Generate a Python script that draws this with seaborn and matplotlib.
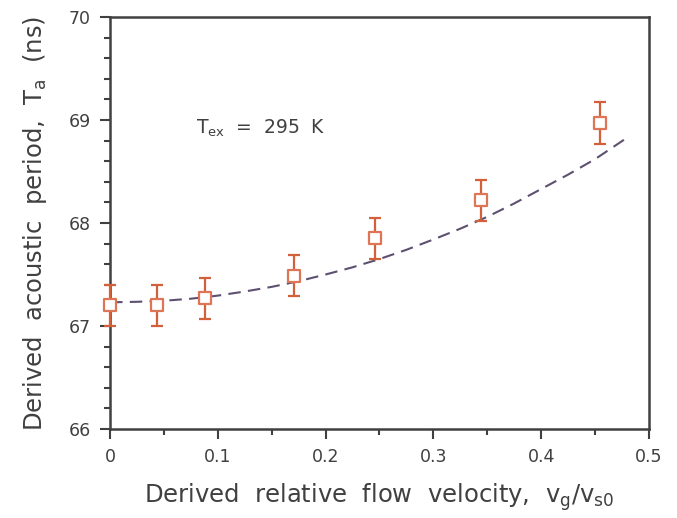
import matplotlib
matplotlib.use("Agg")
import matplotlib.pyplot as plt
import seaborn as sns
import numpy as np
import pandas as pd
from matplotlib.ticker import MultipleLocator

# Data
flow_velocity = [0.0, 0.0433, 0.0884, 0.1707, 0.2458, 0.3438, 0.4545]
acoustic_period = [67.20, 67.20, 67.27, 67.49, 67.85, 68.22, 68.97]
period_error = [0.20, 0.20, 0.20, 0.20, 0.20, 0.20, 0.20]

fit_velocity = [0.0, 0.025, 0.05, 0.075, 0.10, 0.125, 0.15, 0.175, 0.20, 0.225,
                0.25, 0.275, 0.30, 0.325, 0.35, 0.375, 0.40, 0.425, 0.45, 0.48]
fit_period = [67.23, 67.235, 67.245, 67.265, 67.295, 67.335, 67.38, 67.435, 67.50, 67.57,
              67.65, 67.74, 67.84, 67.945, 68.06, 68.19, 68.33, 68.47, 68.62, 68.83]

sns.set_theme(style="white")
plt.rcParams['font.family'] = ['DejaVu Sans']

fig = plt.figure(figsize=(6.77, 5.18), dpi=100)
ax = fig.add_axes([0.1625, 0.1718, 0.7961, 0.7954])

dark = "#404040"
orange = "#D2603A"
curve_col = "#5E5070"

fit_df = pd.DataFrame({"v": fit_velocity, "T": fit_period})
sns.lineplot(data=fit_df, x="v", y="T", ax=ax, color=curve_col, lw=1.5,
             linestyle=(0, (6, 3.5)), zorder=2)

ax.errorbar(flow_velocity, acoustic_period, yerr=period_error, fmt="none",
            ecolor=orange, elinewidth=1.6, capsize=4.5, capthick=1.6, zorder=3,
            clip_on=False)

pts = pd.DataFrame({"v": flow_velocity, "T": acoustic_period})
sns.scatterplot(data=pts, x="v", y="T", ax=ax, marker="s", s=75,
                facecolor="white", edgecolor="#DE7556", linewidth=1.6, zorder=4,
                clip_on=False)

ax.set_xlim(0, 0.5)
ax.set_ylim(66, 70)
ax.xaxis.set_major_locator(MultipleLocator(0.1))
ax.xaxis.set_minor_locator(MultipleLocator(0.05))
ax.yaxis.set_major_locator(MultipleLocator(1))
ax.yaxis.set_minor_locator(MultipleLocator(0.2))
ax.set_xticks([0, 0.1, 0.2, 0.3, 0.4, 0.5])
ax.set_xticklabels(["0", "0.1", "0.2", "0.3", "0.4", "0.5"])

for s in ax.spines.values():
    s.set_color(dark)
    s.set_linewidth(1.8)

ax.tick_params(which="major", direction="out", length=7, width=1.5, color=dark,
               labelsize=12.5, labelcolor=dark, pad=7)
ax.tick_params(which="minor", direction="out", length=4.5, width=1.5, color=dark)
ax.tick_params(axis="x", which="both", bottom=True, top=False)
ax.tick_params(axis="y", which="both", left=True, right=False)

ax.set_xlabel(r"Derived  relative  flow  velocity,  $\mathregular{v_g/v_{s0}}$",
              fontsize=17.5, color=dark, labelpad=11)
ax.set_ylabel(r"Derived  acoustic  period,  $\mathregular{T_a}$  (ns)",
              fontsize=17.5, color=dark, labelpad=14)

ax.text(0.08, 68.92, r"$\mathregular{T_{ex}}$  =  295  K", fontsize=13.5,
        color=dark, ha="left", va="center")

ax.grid(False)
fig.savefig("out.png", dpi=100)
